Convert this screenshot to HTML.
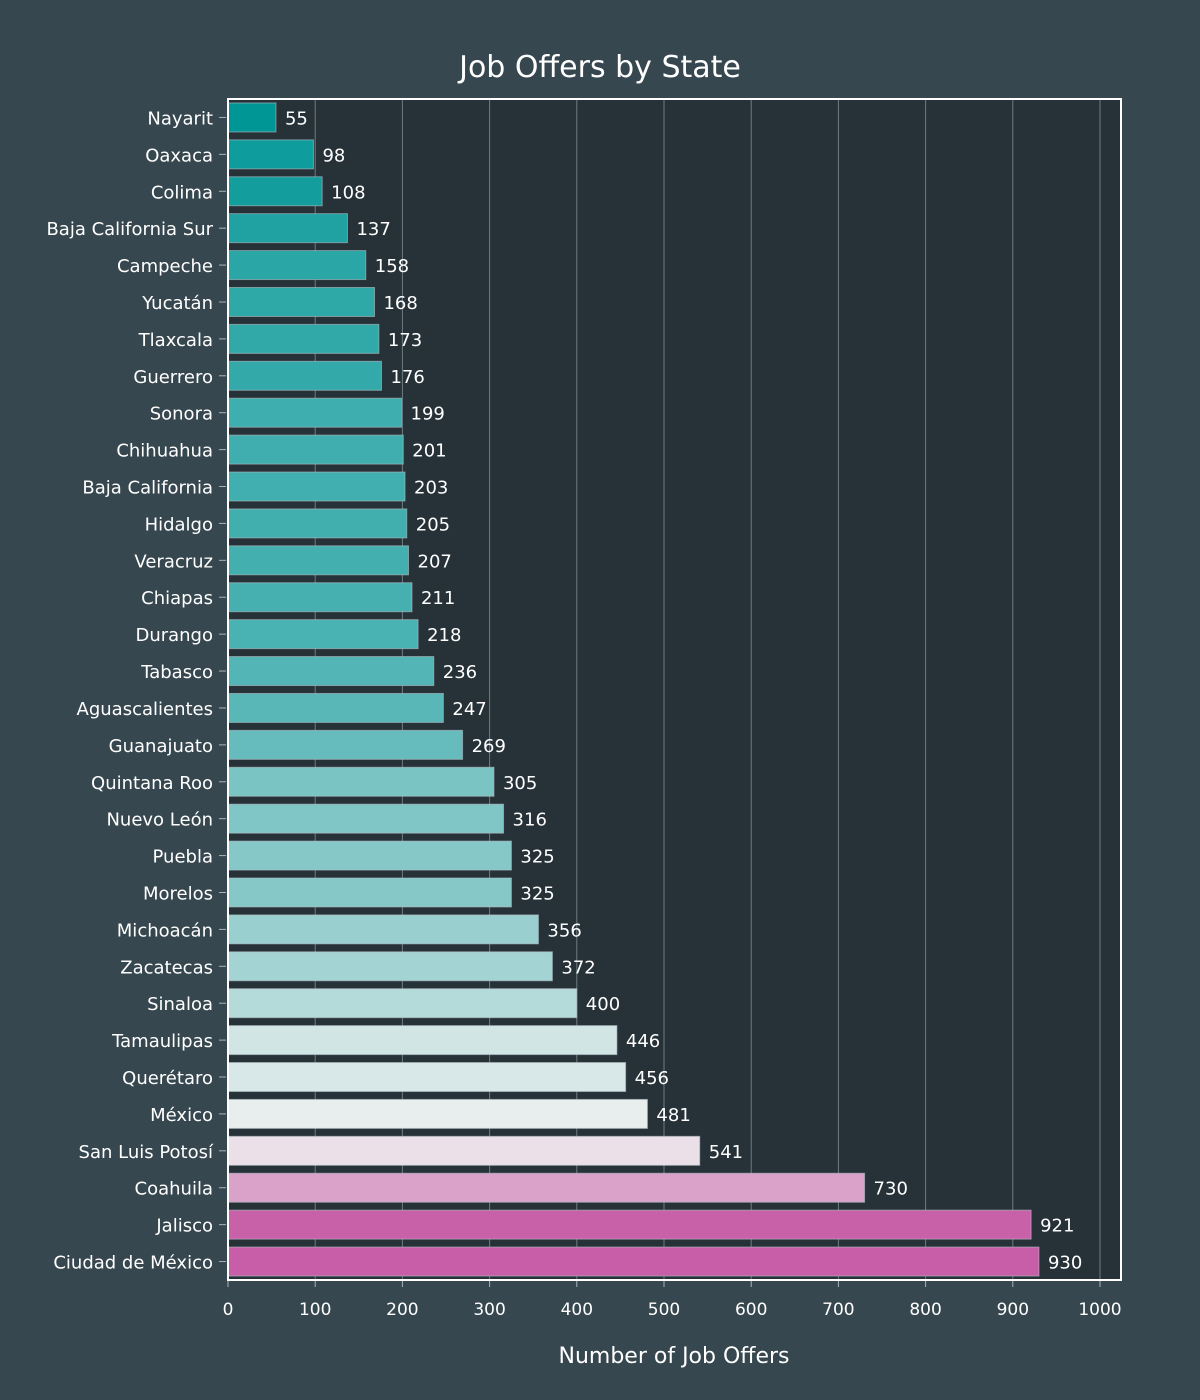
<!DOCTYPE html>
<html><head><meta charset="utf-8"><style>
body{margin:0;background:#37474f;}
svg{display:block;font-family:"DejaVu Sans","Liberation Sans",sans-serif;}
</style></head><body>
<svg id="chart" width="1200" height="1400">
<rect width="1200" height="1400" fill="#37474f"/>
<text x="600" y="77" text-anchor="middle" fill="#ffffff" font-size="30">Job Offers by State</text>
<rect x="228" y="99" width="893" height="1181" fill="#263238"/>
<g id="grid"></g><g id="bars"></g><g id="ylab"></g><g id="xlab"></g>
<rect x="228" y="99" width="893" height="1181" fill="none" stroke="#ffffff" stroke-width="2"/>
<text x="674" y="1363" text-anchor="middle" fill="#ffffff" font-size="22">Number of Job Offers</text>
</svg>
<script>
const states=["Nayarit","Oaxaca","Colima","Baja California Sur","Campeche","Yucatán","Tlaxcala","Guerrero","Sonora","Chihuahua","Baja California","Hidalgo","Veracruz","Chiapas","Durango","Tabasco","Aguascalientes","Guanajuato","Quintana Roo","Nuevo León","Puebla","Morelos","Michoacán","Zacatecas","Sinaloa","Tamaulipas","Querétaro","México","San Luis Potosí","Coahuila","Jalisco","Ciudad de México"];
const offers=[55,98,108,137,158,168,173,176,199,201,203,205,207,211,218,236,247,269,305,316,325,325,356,372,400,446,456,481,541,730,921,930];
const xTicks=[0,100,200,300,400,500,600,700,800,900,1000];
const NS="http://www.w3.org/2000/svg";
const X0=228,XS=0.872,Y0=99,BAND=1181/states.length;
function xs(v){return X0+v*XS;}
function yc(i){return Y0+BAND*(i+0.5);}
function color(v){
  const mn=Math.min(...offers),mx=Math.max(...offers);
  const t=(v-mn)/(mx-mn);
  const a=[0,150,150],m=[240,240,240],b=[200,94,168];
  let c;
  if(t<0.5){const s=Math.pow(t/0.5,1.2);c=a.map((x,k)=>x+(m[k]-x)*s);}else{const s=(t-0.5)/0.5;c=m.map((x,k)=>x+(b[k]-x)*s);}
  return "rgb("+c.map(Math.round).join(",")+")";
}
function mk(tag,attrs,parent){const e=document.createElementNS(NS,tag);for(const k in attrs)e.setAttribute(k,attrs[k]);parent.appendChild(e);return e;}
const grid=document.getElementById("grid"),bars=document.getElementById("bars"),yl=document.getElementById("ylab"),xl=document.getElementById("xlab");
xTicks.forEach(v=>{
  const g=mk("line",{x1:xs(v),x2:xs(v),y1:99,y2:1280,stroke:"#6e7c83","stroke-width":1},grid);
  
  
  const tk=mk("line",{x1:xs(v),x2:xs(v),y1:1280,y2:1287,stroke:"#aab4b8","stroke-width":1},xl);
  
  
  const t=mk("text",{x:xs(v),y:1315,"text-anchor":"middle",fill:"#ffffff","font-size":17},xl);
  t.textContent=v;
  
  
});
states.forEach((s,i)=>{
  const v=offers[i],y=yc(i),h=29;
  const r=mk("rect",{x:X0,y:y-h/2,width:xs(v)-X0,height:h,fill:color(v),stroke:"#b0bec5","stroke-opacity":0.6,"stroke-width":1},bars);
  
  
  const vt=mk("text",{x:xs(v)+9,y:y+7,fill:"#ffffff","font-size":18},bars);
  vt.textContent=v;
  
  
  const tk=mk("line",{x1:219,x2:226,y1:y,y2:y,stroke:"#aab4b8","stroke-width":1},yl);
  
  
  const lt=mk("text",{x:213,y:y+7,"text-anchor":"end",fill:"#ffffff","font-size":18},yl);
  lt.textContent=s;
  
  
});
</script>
</body></html>
